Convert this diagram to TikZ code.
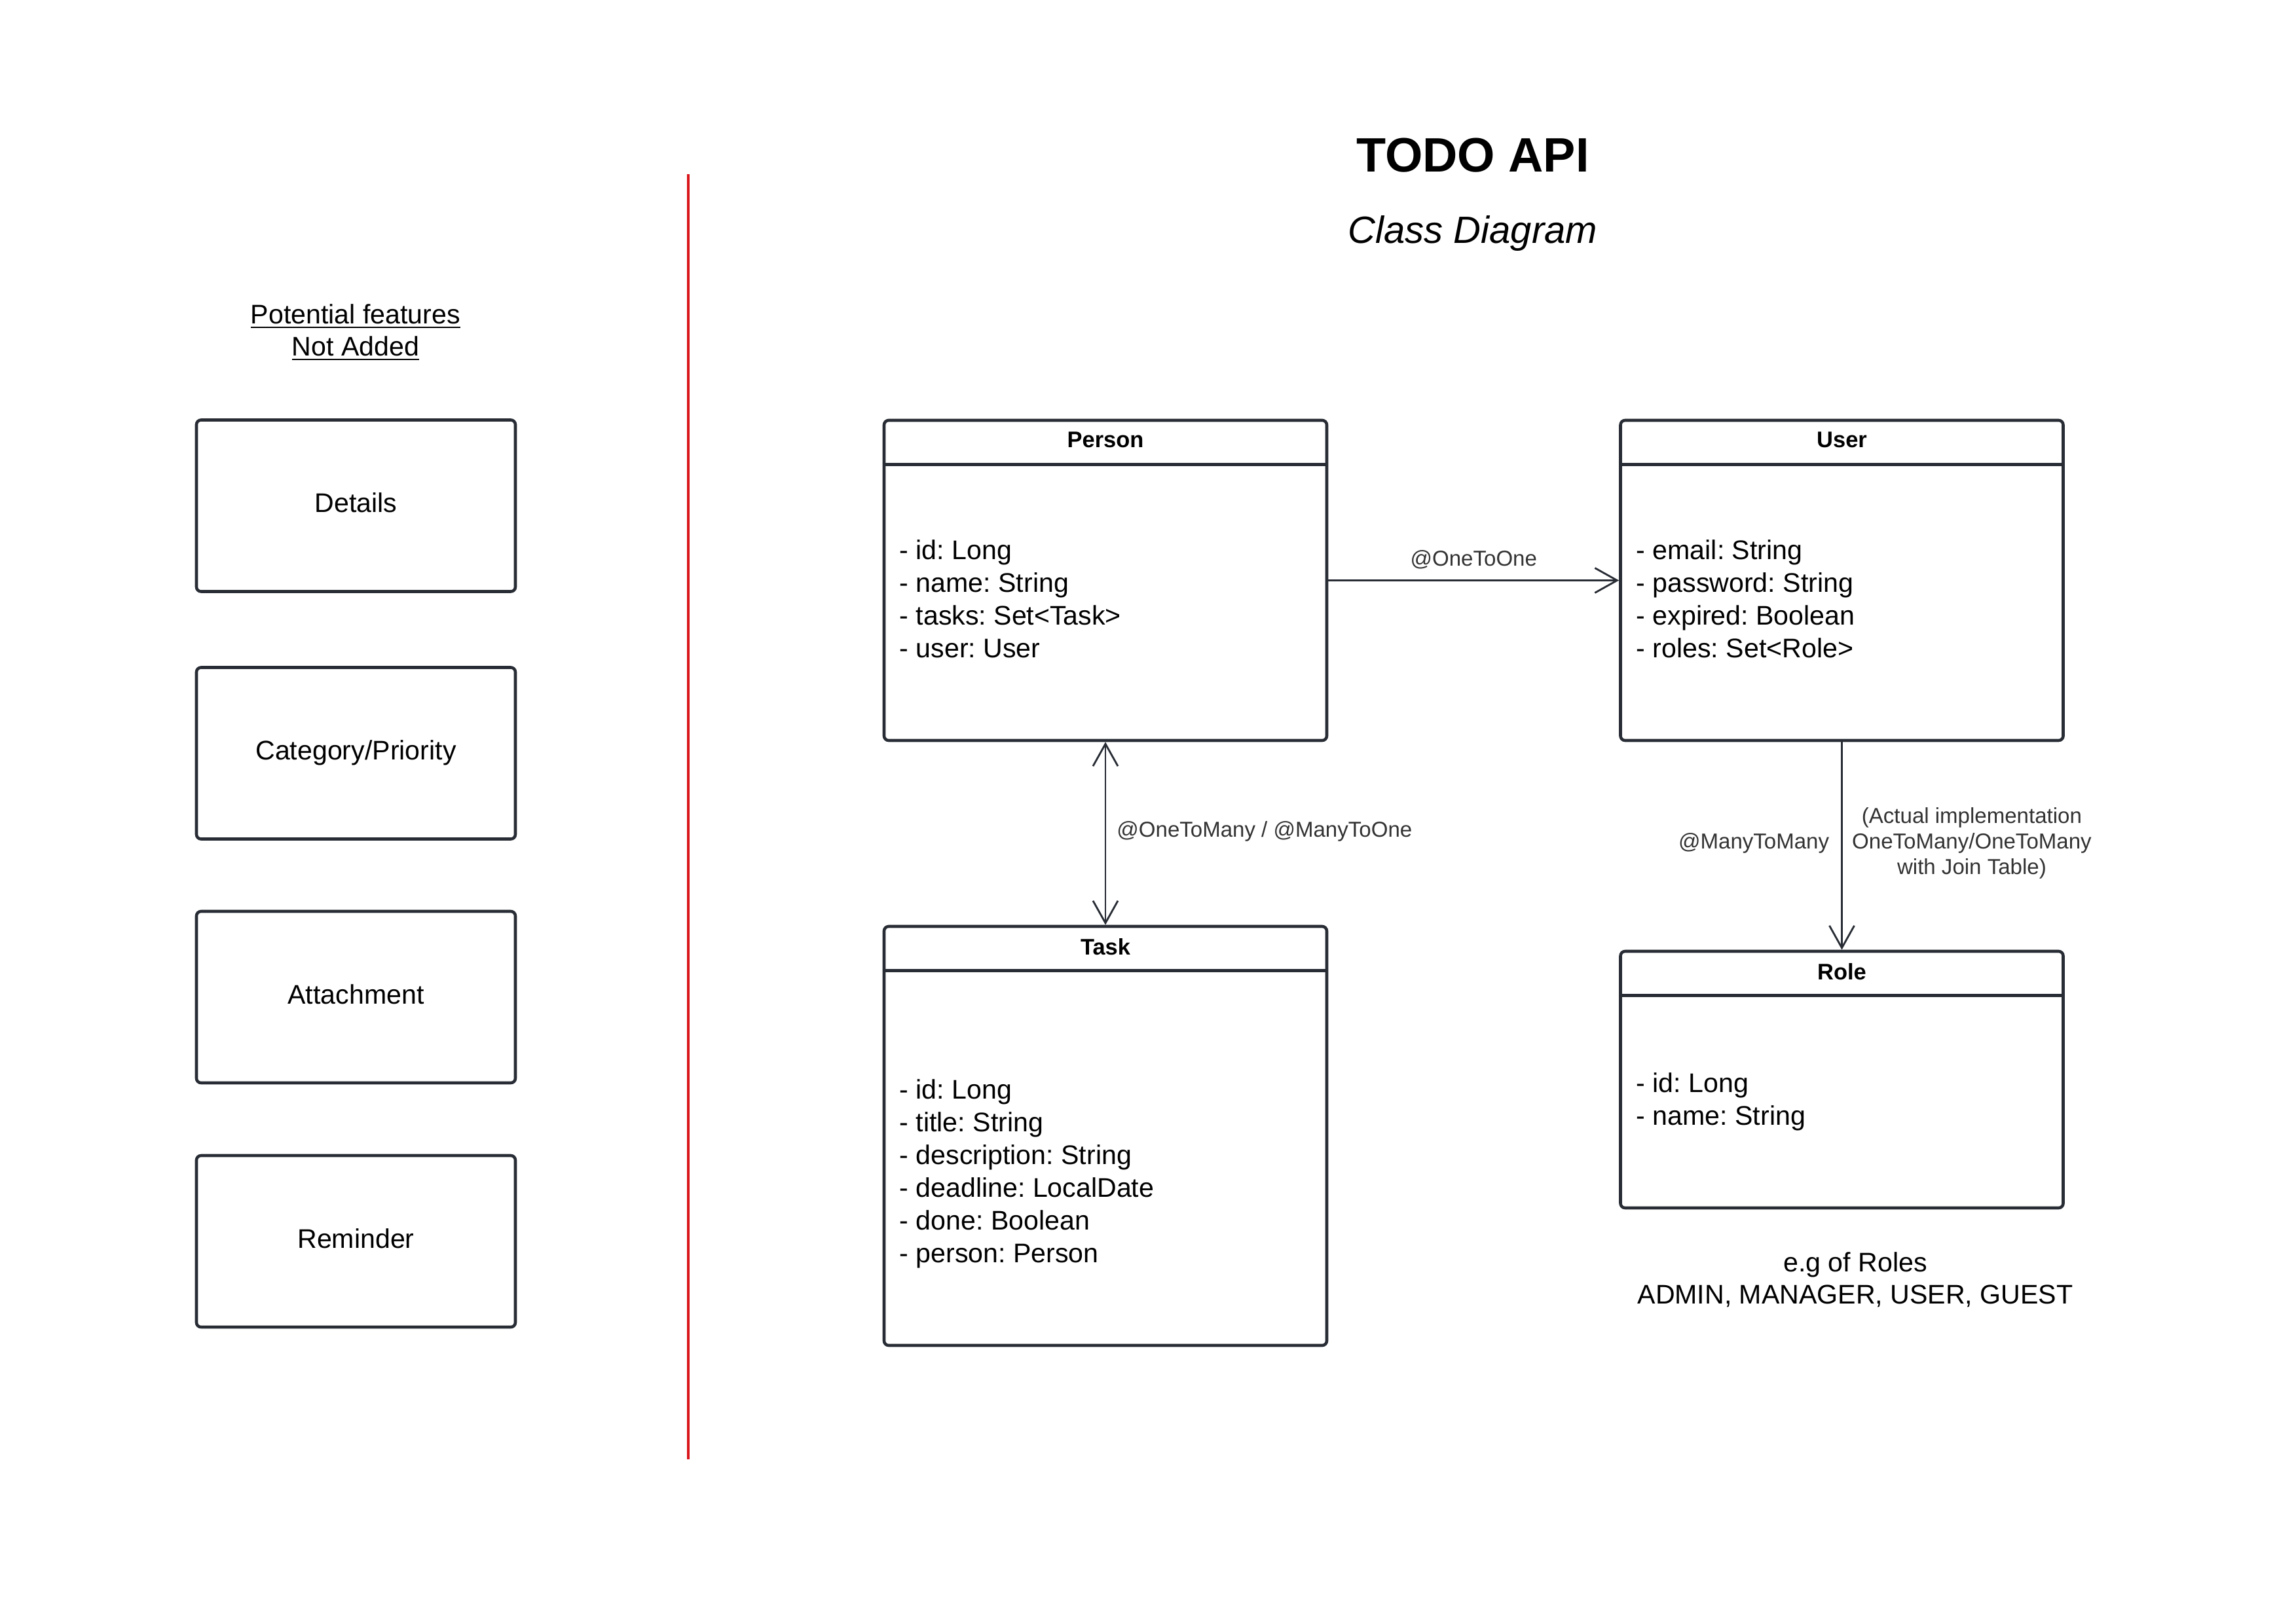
\documentclass[tikz,border=0pt]{standalone}
\usepackage{fontspec}
\setmainfont{Liberation Sans}
\frenchspacing
\usetikzlibrary{arrows.meta}
\definecolor{boxGray}{RGB}{40,44,52}
\definecolor{lineRed}{RGB}{218,22,28}
\definecolor{labelGray}{RGB}{51,51,51}
\tikzset{
    >={Straight Barb[length=3.4mm,width=3.8mm]},
    every node/.append style={inner sep=0pt},
    classbox/.style={draw=boxGray,line width=1.3pt,rounded corners=2pt,minimum width=6.76cm,minimum height=#1},
    featbox/.style={draw=boxGray,line width=1.3pt,rounded corners=2pt,minimum width=4.87cm,minimum height=2.62cm,font=\fontsize{11.7}{14.2}\selectfont,execute at begin node=\strut},
    divider/.style={draw=boxGray,line width=1.3pt},
    chead/.style={font=\bfseries\fontsize{9.8}{12}\selectfont},
    attrs/.style={anchor=west,align=left,font=\fontsize{11.7}{14.2}\selectfont},
    rel/.style={draw=boxGray,line width=0.8pt},
    rlabel/.style={font=\fontsize{9.4}{11.1}\selectfont,text=labelGray,align=center},
    note/.style={align=center,font=\fontsize{11.7}{13.9}\selectfont},
}

\begin{document}
\begin{tikzpicture}
        \useasboundingbox (0,0) rectangle (35.06,-24.79);

        % title
        \node[font=\bfseries\fontsize{21}{25}\selectfont] (title) at (22.49,-2.37) {TODO API};
        \node[font=\itshape\fontsize{16.5}{20}\selectfont] (subtitle) at (22.49,-3.56) {Class Diagram};

        % left column
        \node[note] (featTitle) at (5.43,-5.08) {\underline{Potential features}\\\underline{Not Added}};
        \node[featbox] (details) at (5.435,-7.725) {Details};
        \node[featbox] (category) at (5.435,-11.505) {Category/Priority};
        \node[featbox] (attachment) at (5.435,-15.23) {Attachment};
        \node[featbox] (reminder) at (5.435,-18.96) {Reminder};

        \coordinate (sepTop) at (10.51,-2.66);
        \coordinate (sepBot) at (10.51,-22.29);
        \draw[lineRed,line width=1pt] (sepTop) -- (sepBot);

        % classes
        \node[classbox=4.89cm] (person) at (16.88,-8.865) {};
        \node[chead] (personH) at ([yshift=-0.32cm]person.north) {Person};
        \draw[divider] ([yshift=-0.7cm]person.north west) -- ([yshift=-0.7cm]person.north east);
        \node[attrs] (personA) at (13.73,-9.15) {- id: Long\\- name: String\\- tasks: Set<Task>\\- user: User};

        \node[classbox=4.89cm] (user) at (28.125,-8.865) {};
        \node[chead] (userH) at ([yshift=-0.32cm]user.north) {User};
        \draw[divider] ([yshift=-0.7cm]user.north west) -- ([yshift=-0.7cm]user.north east);
        \node[attrs] (userA) at (24.98,-9.15) {- email: String\\- password: String\\- expired: Boolean\\- roles: Set<Role>};

        \node[classbox=6.40cm] (task) at (16.88,-17.35) {};
        \node[chead] (taskH) at ([yshift=-0.33cm]task.north) {Task};
        \draw[divider] ([yshift=-0.7cm]task.north west) -- ([yshift=-0.7cm]task.north east);
        \node[attrs] (taskA) at (13.73,-17.93) {- id: Long\\- title: String\\- description: String\\- deadline: LocalDate\\- done: Boolean\\- person: Person};

        \node[classbox=3.92cm] (role) at (28.125,-16.49) {};
        \node[chead] (roleH) at ([yshift=-0.33cm]role.north) {Role};
        \draw[divider] ([yshift=-0.7cm]role.north west) -- ([yshift=-0.7cm]role.north east);
        \node[attrs] (roleA) at (24.98,-16.83) {- id: Long\\- name: String};

        \node[note] (roleNote) at (28.33,-19.55) {e.g of Roles\\ADMIN, MANAGER, USER, GUEST};

        % relations
        \draw[rel,->] (person) -- node[rlabel,yshift=0.32cm] (oneToOne) {@OneToOne} (user);
        \draw[rel,<->] (person) -- node[rlabel,anchor=west,xshift=0.16cm,yshift=0.03cm] (oneToMany) {@OneToMany / @ManyToOne} (task);
        \draw[rel,->] (user) -- node[rlabel,anchor=east,xshift=-0.18cm,yshift=0.04cm] (manyToMany) {@ManyToMany} (role);
        \node[rlabel,anchor=west] (actualImpl) at ([xshift=0.15cm]manyToMany.east -| user.south) {(Actual implementation\\OneToMany/OneToMany\\with Join Table)};
\end{tikzpicture}
\end{document}
